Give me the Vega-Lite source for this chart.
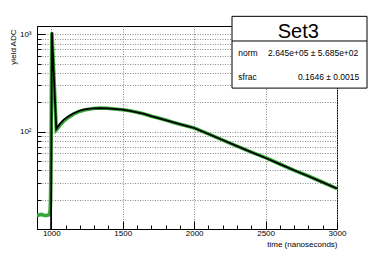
{
  "$schema": "https://vega.github.io/schema/vega-lite/v6.json",
  "width": 300,
  "height": 203,
  "autosize": "none",
  "padding": {"left": 37, "top": 26, "right": 37, "bottom": 26},
  "background": "white",
  "config": {
    "font": "Liberation Sans",
    "view": {"stroke": "black", "strokeWidth": 1},
    "axis": {
      "domainColor": "black",
      "tickColor": "black",
      "labelColor": "black",
      "labelFont": "Liberation Sans",
      "labelFontSize": 8,
      "titleFont": "Liberation Sans",
      "titleFontSize": 8,
      "titleFontWeight": "normal",
      "titleColor": "black",
      "gridColor": "#8a8a8a",
      "gridDash": [1, 1.5],
      "gridWidth": 1
    }
  },
  "data": {
    "values": [
      {"t": 900, "data": 13.8},
      {"t": 930, "data": 14.1},
      {"t": 960, "data": 13.7},
      {"t": 985, "data": 14.0},
      {"t": 992, "data": 15.5},
      {"t": 995, "data": 21},
      {"t": 997, "data": 36},
      {"t": 998, "fit": 6},
      {"t": 999, "data": 85},
      {"t": 1001, "data": 320},
      {"t": 1003, "data": 820},
      {"t": 1004, "fit": 1050},
      {"t": 1005, "data": 1040},
      {"t": 1035, "data": 104, "fit": 106.6},
      {"t": 1045, "data": 108, "fit": 112},
      {"t": 1060, "data": 116, "fit": 120},
      {"t": 1086, "data": 128, "fit": 132},
      {"t": 1120, "data": 140, "fit": 144},
      {"t": 1155, "data": 151, "fit": 154},
      {"t": 1190, "data": 160, "fit": 162},
      {"t": 1225, "data": 166, "fit": 168},
      {"t": 1260, "data": 170, "fit": 171.5},
      {"t": 1295, "data": 173, "fit": 173.6},
      {"t": 1340, "data": 175, "fit": 174.5},
      {"t": 1390, "data": 174, "fit": 173.6},
      {"t": 1440, "data": 171, "fit": 171.5},
      {"t": 1500, "data": 168, "fit": 168},
      {"t": 1550, "data": 164, "fit": 163.5},
      {"t": 1600, "data": 158.5, "fit": 158},
      {"t": 1650, "data": 152, "fit": 152},
      {"t": 1700, "data": 144, "fit": 144.5},
      {"t": 1750, "data": 138, "fit": 138},
      {"t": 1800, "data": 131.5, "fit": 131.5},
      {"t": 1850, "data": 125, "fit": 125},
      {"t": 1900, "data": 119, "fit": 119.5},
      {"t": 1950, "data": 114, "fit": 114},
      {"t": 2000, "data": 109, "fit": 109},
      {"t": 2100, "data": 95, "fit": 94.5},
      {"t": 2200, "data": 82, "fit": 82},
      {"t": 2300, "data": 71, "fit": 71},
      {"t": 2400, "data": 61.5, "fit": 61.6},
      {"t": 2500, "data": 54, "fit": 53.6},
      {"t": 2600, "data": 46.5, "fit": 46.3},
      {"t": 2700, "data": 40, "fit": 40.1},
      {"t": 2800, "data": 35, "fit": 34.8},
      {"t": 2900, "data": 30.2, "fit": 30.1},
      {"t": 3000, "data": 26, "fit": 26.1}
    ]
  },
  "layer": [
    {
      "transform": [{"filter": "isValid(datum.data)"}],
      "mark": {"type": "line", "color": "#36a836", "strokeWidth": 3.6, "clip": true},
      "encoding": {
        "x": {
          "field": "t",
          "type": "quantitative",
          "scale": {"domain": [900, 3000], "nice": false, "zero": false},
          "axis": {
            "title": "time (nanoseconds)",
            "titleAnchor": "end",
            "titleAlign": "right",
            "titleBaseline": "middle",
            "titleX": 300,
            "titleY": 15,
            "values": [900, 1000, 1100, 1200, 1300, 1400, 1500, 1600, 1700, 1800, 1900, 2000, 2100, 2200, 2300, 2400, 2500, 2600, 2700, 2800, 2900, 3000],
            "tickCount": 100,
            "labelExpr": "indexof([1000, 1500, 2000, 2500, 3000], datum.value) >= 0 ? format(datum.value, 'd') : ''",
            "labelOverlap": false,
            "labelPadding": 8,
            "labelFlush": false,
            "tickSize": {"condition": {"test": "indexof([1000, 1500, 2000, 2500, 3000], datum.value) >= 0", "value": -8}, "value": -4},
            "grid": true,
            "gridOpacity": {"condition": {"test": "indexof([1000, 1500, 2000, 2500, 3000], datum.value) >= 0", "value": 1}, "value": 0}
          }
        },
        "y": {
          "field": "data",
          "type": "quantitative",
          "scale": {"type": "log", "domain": [10, 1216], "nice": false},
          "axis": {
            "title": "yield ADC",
            "titleAnchor": "end",
            "titleAlign": "right",
            "titleBaseline": "middle",
            "titleAngle": -90,
            "titleX": -24,
            "titleY": 3,
            "values": [10, 20, 30, 40, 50, 60, 70, 80, 90, 100, 200, 300, 400, 500, 600, 700, 800, 900, 1000],
            "tickCount": 100,
            "labelExpr": "datum.value == 100 ? '10²' : (datum.value == 1000 ? '10³' : '')",
            "labelOverlap": false,
            "labelPadding": 14,
            "labelFlush": false,
            "tickSize": {"condition": {"test": "datum.value == 100 || datum.value == 1000", "value": -8}, "value": -4},
            "grid": true
          }
        }
      }
    },
    {
      "transform": [{"filter": "isValid(datum.fit)"}],
      "mark": {"type": "line", "color": "black", "strokeWidth": 1.8, "clip": true},
      "encoding": {
        "x": {"field": "t", "type": "quantitative"},
        "y": {"field": "fit", "type": "quantitative"}
      }
    },
    {
      "data": {"values": [{}]},
      "mark": {"type": "rect", "fill": "white", "stroke": "black", "strokeWidth": 1, "clip": false},
      "encoding": {
        "x": {"datum": 2265},
        "x2": {"datum": 3210},
        "y": {"datum": 1528},
        "y2": {"datum": 280}
      }
    },
    {
      "data": {"values": [{}]},
      "mark": {"type": "rule", "color": "black", "strokeWidth": 1, "clip": false},
      "encoding": {
        "x": {"datum": 2265},
        "x2": {"datum": 3210},
        "y": {"datum": 853}
      }
    },
    {
      "data": {"values": [{}]},
      "mark": {"type": "text", "text": "Set3", "fontSize": 20, "align": "center", "baseline": "middle", "font": "Liberation Sans", "color": "black", "clip": false},
      "encoding": {"x": {"datum": 2729}, "y": {"datum": 1057}}
    },
    {
      "data": {"values": [{}]},
      "mark": {"type": "text", "text": "norm", "fontSize": 8.5, "align": "left", "baseline": "middle", "font": "Liberation Sans", "color": "black", "clip": false},
      "encoding": {"x": {"datum": 2309}, "y": {"datum": 644}}
    },
    {
      "data": {"values": [{}]},
      "mark": {"type": "text", "text": "2.645e+05 ± 5.685e+02", "fontSize": 8.5, "align": "right", "baseline": "middle", "font": "Liberation Sans", "color": "black", "clip": false},
      "encoding": {"x": {"datum": 3149}, "y": {"datum": 644}}
    },
    {
      "data": {"values": [{}]},
      "mark": {"type": "text", "text": "sfrac", "fontSize": 8.5, "align": "left", "baseline": "middle", "font": "Liberation Sans", "color": "black", "clip": false},
      "encoding": {"x": {"datum": 2309}, "y": {"datum": 360}}
    },
    {
      "data": {"values": [{}]},
      "mark": {"type": "text", "text": "0.1646 ± 0.0015", "fontSize": 8.5, "align": "right", "baseline": "middle", "font": "Liberation Sans", "color": "black", "clip": false},
      "encoding": {"x": {"datum": 3156}, "y": {"datum": 360}}
    }
  ]
}
